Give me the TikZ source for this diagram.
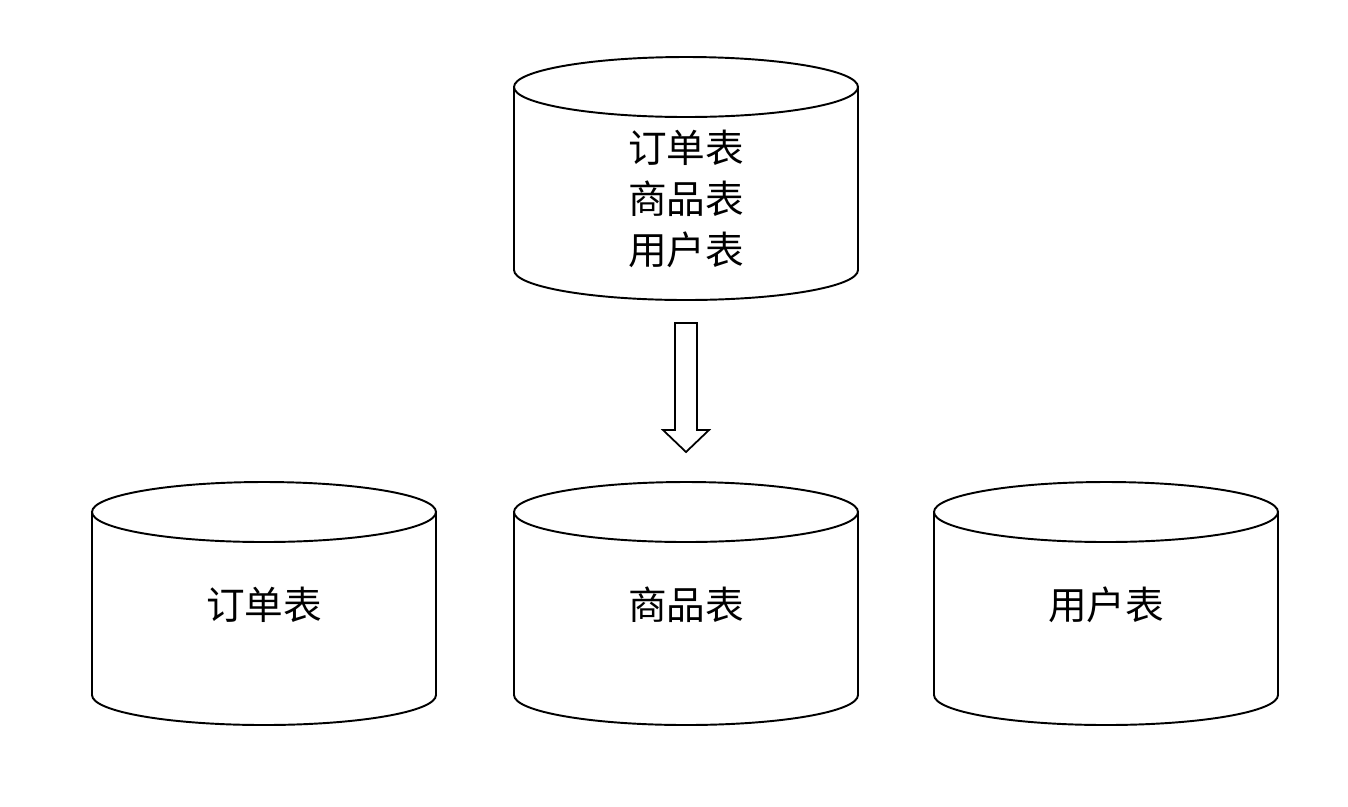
\documentclass[tikz,border=0pt]{standalone}
\usepackage{fontspec}
\newfontfamily\cjk{Noto Sans CJK SC}
\begin{document}
\begin{tikzpicture}[x=0.02cm,y=-0.02cm,line width=1.1pt,
  lbl/.style={font=\cjk\fontsize{22}{29}\selectfont,align=center,inner sep=0pt}]
\useasboundingbox (0,0) rectangle (1348,806);
\newcommand\mycyl[6]{%
  \draw[fill=white] (#2-172,#3) -- (#2-172,#4) arc[start angle=180,end angle=0,x radius=172,y radius=30] -- (#2+172,#3);
  \draw[fill=white] (#2,#3) ellipse[x radius=172,y radius=30];
  \node[lbl] (#1) at (#2,#5) {#6};}
\mycyl{all}{686}{87}{270}{199}{订单表\\商品表\\用户表}
\mycyl{order}{264}{512}{695}{605}{订单表}
\mycyl{goods}{686}{512}{695}{605}{商品表}
\mycyl{user}{1106}{512}{695}{605}{用户表}
\draw[line width=1pt] (675,323) -- (697,323) -- (697,430) -- (709,430) -- (686,452) -- (663,430) -- (675,430) -- cycle;
\end{tikzpicture}
\end{document}
